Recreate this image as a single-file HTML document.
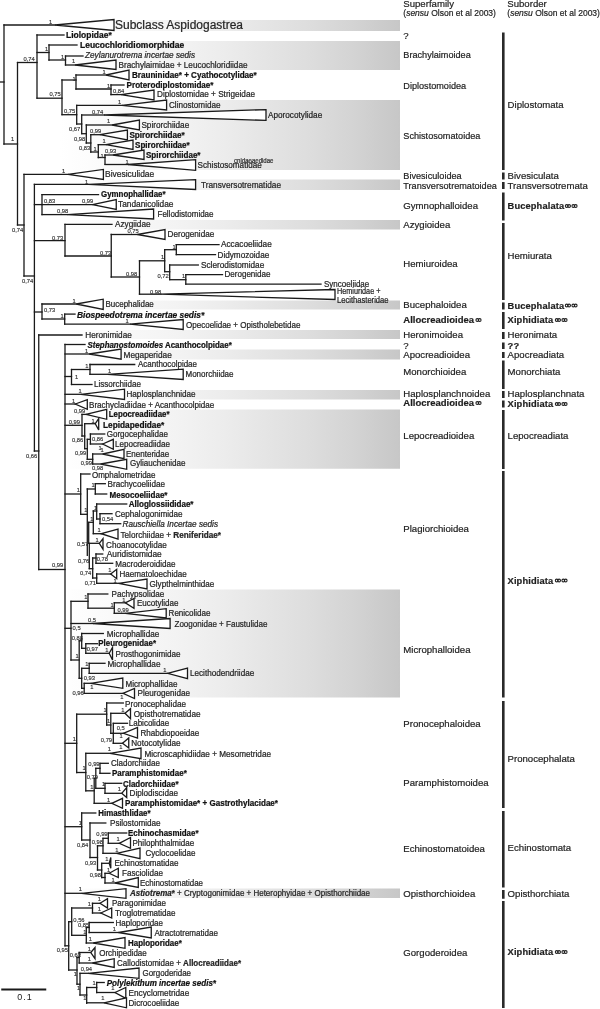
<!DOCTYPE html><html><head><meta charset="utf-8"><style>html,body{margin:0;padding:0;background:#fff;overflow:hidden}svg{display:block;will-change:transform}text{font-family:"Liberation Sans",sans-serif}</style></head><body>
<svg width="600" height="1009" viewBox="0 0 600 1009">
<defs><linearGradient id="g" gradientUnits="userSpaceOnUse" x1="60" y1="0" x2="400" y2="0"><stop offset="0.000" stop-color="#ffffff"/><stop offset="0.176" stop-color="#f9f9f9"/><stop offset="0.341" stop-color="#f3f3f3"/><stop offset="0.485" stop-color="#ececec"/><stop offset="0.618" stop-color="#e4e4e4"/><stop offset="0.735" stop-color="#dddddd"/><stop offset="0.868" stop-color="#d3d3d3"/><stop offset="1.000" stop-color="#c7c7c7"/></linearGradient></defs>
<rect x="40" y="20" width="360" height="11" fill="url(#g)"/>
<rect x="40" y="41" width="360" height="29" fill="url(#g)"/>
<rect x="40" y="100" width="360" height="70" fill="url(#g)"/>
<rect x="40" y="179.5" width="360" height="10.5" fill="url(#g)"/>
<rect x="40" y="220" width="360" height="9.5" fill="url(#g)"/>
<rect x="40" y="300.5" width="360" height="9.0" fill="url(#g)"/>
<rect x="40" y="330" width="360" height="9" fill="url(#g)"/>
<rect x="40" y="349.5" width="360" height="10.0" fill="url(#g)"/>
<rect x="40" y="390" width="360" height="9.5" fill="url(#g)"/>
<rect x="40" y="409.5" width="360" height="59.25" fill="url(#g)"/>
<rect x="40" y="589.5" width="360" height="108.0" fill="url(#g)"/>
<rect x="40" y="888.5" width="360" height="9.5" fill="url(#g)"/>
<g fill="#2a2a2a">
<rect x="502" y="32.5" width="2.6" height="137.5"/>
<rect x="502" y="172.5" width="2.6" height="7.0"/>
<rect x="502" y="182" width="2.6" height="7"/>
<rect x="502" y="192.5" width="2.6" height="28.0"/>
<rect x="502" y="223" width="2.6" height="77"/>
<rect x="502" y="302.5" width="2.6" height="7.0"/>
<rect x="502" y="312" width="2.6" height="17"/>
<rect x="502" y="332" width="2.6" height="7"/>
<rect x="502" y="342.5" width="2.6" height="6.5"/>
<rect x="502" y="352" width="2.6" height="6"/>
<rect x="502" y="360.5" width="2.6" height="28.5"/>
<rect x="502" y="391" width="2.6" height="7"/>
<rect x="502" y="400.5" width="2.6" height="7.0"/>
<rect x="502" y="410" width="2.6" height="59"/>
<rect x="502" y="471" width="2.6" height="226.5"/>
<rect x="502" y="701" width="2.6" height="107"/>
<rect x="502" y="811" width="2.6" height="76.5"/>
<rect x="502" y="890" width="2.6" height="8.75"/>
<rect x="502" y="901" width="2.6" height="107"/>
</g>
<g stroke="#1a1a1a" stroke-width="1.3" fill="#fff" stroke-linecap="square">
<line x1="0" y1="82" x2="4" y2="82"/>
<line x1="4" y1="25" x2="4" y2="144"/>
<line x1="4" y1="25" x2="55" y2="25"/>
<path class="tri" d="M55 25L114 19.5L114 30.5Z"/>
<line x1="4" y1="144" x2="17.5" y2="144"/>
<line x1="17.5" y1="62.5" x2="17.5" y2="225"/>
<line x1="17.5" y1="62.5" x2="37" y2="62.5"/>
<line x1="37" y1="35" x2="37" y2="98.2"/>
<line x1="37" y1="35" x2="64" y2="35"/>
<line x1="37" y1="52.5" x2="49" y2="52.5"/>
<line x1="49" y1="45" x2="49" y2="60"/>
<line x1="49" y1="45" x2="77" y2="45"/>
<line x1="49" y1="60" x2="65.5" y2="60"/>
<line x1="65.5" y1="56" x2="65.5" y2="65"/>
<line x1="65.5" y1="56" x2="83" y2="56"/>
<line x1="65.5" y1="65" x2="75" y2="65"/>
<path class="tri" d="M75 65L116 60L116 69.5Z"/>
<line x1="37" y1="98.2" x2="62" y2="98.2"/>
<line x1="62" y1="80" x2="62" y2="114.7"/>
<line x1="62" y1="80" x2="76" y2="80"/>
<line x1="76" y1="75" x2="76" y2="89"/>
<line x1="76" y1="75" x2="106" y2="75"/>
<path class="tri" d="M106 75L129 70L129 80Z"/>
<line x1="76" y1="89" x2="111" y2="89"/>
<line x1="111" y1="85" x2="111" y2="94.6"/>
<line x1="111" y1="85" x2="124" y2="85"/>
<line x1="111" y1="94.6" x2="121" y2="94.6"/>
<path class="tri" d="M121 94.6L154 90L154 100Z"/>
<line x1="62" y1="114.7" x2="76.7" y2="114.7"/>
<line x1="76.7" y1="105.3" x2="76.7" y2="124"/>
<line x1="76.7" y1="105.3" x2="122" y2="105.3"/>
<path class="tri" d="M122 105.3L166.6 100L166.6 110Z"/>
<line x1="76.7" y1="124" x2="81.7" y2="124"/>
<line x1="81.7" y1="115" x2="81.7" y2="133.7"/>
<line x1="81.7" y1="115" x2="104" y2="115"/>
<path class="tri" d="M104 115L266 109.6L266 120.4Z"/>
<line x1="81.7" y1="133.7" x2="86.3" y2="133.7"/>
<line x1="86.3" y1="125" x2="86.3" y2="143"/>
<line x1="86.3" y1="125" x2="112" y2="125"/>
<path class="tri" d="M112 125L139.4 120L139.4 130Z"/>
<line x1="86.3" y1="143" x2="90.8" y2="143"/>
<line x1="90.8" y1="134.7" x2="90.8" y2="152"/>
<line x1="90.8" y1="134.7" x2="100" y2="134.7"/>
<path class="tri" d="M100 134.7L127.4 130L127.4 140Z"/>
<line x1="90.8" y1="152" x2="98.3" y2="152"/>
<line x1="98.3" y1="144.7" x2="98.3" y2="157.5"/>
<line x1="98.3" y1="144.7" x2="106" y2="144.7"/>
<path class="tri" d="M106 144.7L133 140L133 149.5Z"/>
<line x1="98.3" y1="157.5" x2="105" y2="157.5"/>
<line x1="105" y1="155" x2="105" y2="164"/>
<line x1="105" y1="155" x2="113" y2="155"/>
<path class="tri" d="M113 155L144 150L144 159.5Z"/>
<line x1="105" y1="164.5" x2="128" y2="164.5"/>
<path class="tri" d="M128 164.5L195.6 159.6L195.6 170.4Z"/>
<line x1="17.5" y1="225" x2="24" y2="225"/>
<line x1="24" y1="174.4" x2="24" y2="276"/>
<line x1="24" y1="174.4" x2="68" y2="174.4"/>
<path class="tri" d="M68 174.4L103.4 169.4L103.4 179.4Z"/>
<line x1="24" y1="276" x2="34.4" y2="276"/>
<line x1="34.4" y1="184.4" x2="34.4" y2="451"/>
<line x1="34.4" y1="184.4" x2="88.5" y2="184.4"/>
<path class="tri" d="M88.5 184.4L195.6 179.6L195.6 189.5Z"/>
<line x1="34.4" y1="204.6" x2="42" y2="204.6"/>
<line x1="42" y1="194.6" x2="42" y2="214.6"/>
<line x1="42" y1="194.6" x2="98.5" y2="194.6"/>
<line x1="42" y1="204.6" x2="92.5" y2="204.6"/>
<path class="tri" d="M92.5 204.6L116.25 199.5L116.25 209.5Z"/>
<line x1="42" y1="214.6" x2="67.5" y2="214.6"/>
<path class="tri" d="M67.5 214.6L153.6 209L153.6 219Z"/>
<line x1="34.4" y1="240.6" x2="65" y2="240.6"/>
<line x1="65" y1="224.4" x2="65" y2="256"/>
<line x1="65" y1="224.4" x2="112" y2="224.4"/>
<line x1="65" y1="256" x2="111.25" y2="256"/>
<line x1="111.25" y1="234.5" x2="111.25" y2="277"/>
<line x1="111.25" y1="234.5" x2="137.5" y2="234.5"/>
<path class="tri" d="M137.5 234.5L165 229.5L165 239.5Z"/>
<line x1="111.25" y1="277" x2="139.5" y2="277"/>
<line x1="139.5" y1="260.8" x2="139.5" y2="294.2"/>
<line x1="139.5" y1="260.8" x2="164.7" y2="260.8"/>
<line x1="164.7" y1="249.7" x2="164.7" y2="271.7"/>
<line x1="164.7" y1="249.7" x2="176.3" y2="249.7"/>
<line x1="176.3" y1="244.7" x2="176.3" y2="254.7"/>
<line x1="176.3" y1="244.7" x2="219" y2="244.7"/>
<line x1="176.3" y1="254.7" x2="215.5" y2="254.7"/>
<line x1="164.7" y1="271.7" x2="169.7" y2="271.7"/>
<line x1="169.7" y1="265" x2="169.7" y2="279.7"/>
<line x1="169.7" y1="265" x2="198.3" y2="265"/>
<line x1="169.7" y1="279.7" x2="185.8" y2="279.7"/>
<line x1="185.8" y1="274.7" x2="185.8" y2="284.2"/>
<line x1="185.8" y1="274.7" x2="222.5" y2="274.7"/>
<line x1="185.8" y1="284.2" x2="321" y2="284.2"/>
<line x1="139.5" y1="294.2" x2="160.8" y2="294.2"/>
<path class="tri" d="M160.8 294.2L335 289.5L335 299.5Z"/>
<line x1="34.4" y1="312" x2="42" y2="312"/>
<line x1="42" y1="304" x2="42" y2="319"/>
<line x1="42" y1="304" x2="76.3" y2="304"/>
<path class="tri" d="M76.3 304L103.2 299.2L103.2 309.5Z"/>
<line x1="42" y1="319" x2="64.7" y2="319"/>
<line x1="64.7" y1="314.1" x2="64.7" y2="324.2"/>
<line x1="64.7" y1="314.1" x2="75" y2="314.1"/>
<line x1="64.7" y1="324.2" x2="130" y2="324.2"/>
<path class="tri" d="M130 324.2L183.2 319.5L183.2 329.5Z"/>
<line x1="34.4" y1="451" x2="38.75" y2="451"/>
<line x1="38.75" y1="335" x2="38.75" y2="569.5"/>
<line x1="38.75" y1="335" x2="82" y2="335"/>
<line x1="38.75" y1="569.5" x2="65" y2="569.5"/>
<line x1="65" y1="344.5" x2="65" y2="945.8"/>
<line x1="65" y1="344.5" x2="85" y2="344.5"/>
<line x1="65" y1="354" x2="89.2" y2="354"/>
<path class="tri" d="M89.2 354L121.1 349.1L121.1 359.2Z"/>
<line x1="65" y1="376.5" x2="71.5" y2="376.5"/>
<line x1="71.5" y1="369.5" x2="71.5" y2="384.5"/>
<line x1="71.5" y1="369.5" x2="90" y2="369.5"/>
<line x1="90" y1="364.5" x2="90" y2="374.3"/>
<line x1="90" y1="364.5" x2="134.7" y2="364.5"/>
<line x1="90" y1="374.3" x2="107.8" y2="374.3"/>
<path class="tri" d="M107.8 374.3L183.2 369.2L183.2 379.5Z"/>
<line x1="71.5" y1="384.5" x2="92" y2="384.5"/>
<line x1="65" y1="394.3" x2="81" y2="394.3"/>
<path class="tri" d="M81 394.3L124.5 389.2L124.5 399.4Z"/>
<line x1="65" y1="404" x2="75.3" y2="404"/>
<path class="tri" d="M75.3 404L87.3 399.6L87.3 409.3Z"/>
<line x1="65" y1="425.3" x2="82" y2="425.3"/>
<line x1="82" y1="414.4" x2="82" y2="436"/>
<line x1="82" y1="414.4" x2="86" y2="414.4"/>
<path class="tri" d="M86 414.4L106.7 409.3L106.7 419.3Z"/>
<line x1="82" y1="436" x2="84.7" y2="436"/>
<line x1="84.7" y1="423.7" x2="84.7" y2="448.7"/>
<line x1="84.7" y1="423.7" x2="95.3" y2="423.7"/>
<path class="tri" d="M95.3 423.7L98.7 418.7L98.7 430Z"/>
<line x1="84.7" y1="448.7" x2="87.3" y2="448.7"/>
<line x1="87.3" y1="439.3" x2="87.3" y2="459.3"/>
<line x1="87.3" y1="439.3" x2="90.4" y2="439.3"/>
<line x1="90.4" y1="434" x2="90.4" y2="444"/>
<line x1="90.4" y1="434" x2="104.7" y2="434"/>
<line x1="90.4" y1="444" x2="102.7" y2="444"/>
<path class="tri" d="M102.7 444L113.3 439.3L113.3 449.3Z"/>
<line x1="87.3" y1="459.3" x2="92.7" y2="459.3"/>
<line x1="92.7" y1="454" x2="92.7" y2="464"/>
<line x1="92.7" y1="454" x2="102.7" y2="454"/>
<path class="tri" d="M102.7 454L124 449.3L124 458.7Z"/>
<line x1="92.7" y1="464" x2="100.7" y2="464"/>
<path class="tri" d="M100.7 464L126.7 459.3L126.7 469.3Z"/>
<line x1="65" y1="494" x2="80.7" y2="494"/>
<line x1="80.7" y1="474" x2="80.7" y2="514.3"/>
<line x1="80.7" y1="474" x2="90" y2="474"/>
<line x1="80.7" y1="514.3" x2="87.3" y2="514.3"/>
<line x1="87.3" y1="489" x2="87.3" y2="555.3"/>
<line x1="87.3" y1="489" x2="95.3" y2="489"/>
<line x1="95.3" y1="483.7" x2="95.3" y2="494"/>
<line x1="95.3" y1="483.7" x2="105.3" y2="483.7"/>
<line x1="95.3" y1="494" x2="106.7" y2="494"/>
<line x1="88.7" y1="522.3" x2="88.7" y2="543.3"/>
<line x1="88.7" y1="522.3" x2="93.3" y2="522.3"/>
<line x1="93.3" y1="511" x2="93.3" y2="533.7"/>
<line x1="93.3" y1="511" x2="96.7" y2="511"/>
<line x1="96.7" y1="504" x2="96.7" y2="519"/>
<line x1="96.7" y1="504" x2="126.7" y2="504"/>
<line x1="96.7" y1="519" x2="100" y2="519"/>
<line x1="100" y1="513.7" x2="100" y2="523.7"/>
<line x1="100" y1="513.7" x2="112" y2="513.7"/>
<line x1="100" y1="523.7" x2="120.7" y2="523.7"/>
<line x1="93.3" y1="533.7" x2="101.3" y2="533.7"/>
<path class="tri" d="M101.3 533.7L118 529L118 539Z"/>
<line x1="89.3" y1="543.3" x2="89.3" y2="568.7"/>
<line x1="89.3" y1="543.3" x2="99.3" y2="543.3"/>
<path class="tri" d="M99.3 543.3L103 538.7L103 549.3Z"/>
<line x1="89.3" y1="568.7" x2="92.7" y2="568.7"/>
<line x1="92.7" y1="558" x2="92.7" y2="578"/>
<line x1="92.7" y1="558" x2="96" y2="558"/>
<line x1="96" y1="554" x2="96" y2="563.3"/>
<line x1="96" y1="554" x2="102.7" y2="554"/>
<line x1="96" y1="563.3" x2="112.7" y2="563.3"/>
<line x1="92.7" y1="578" x2="96.7" y2="578"/>
<line x1="96.7" y1="574" x2="96.7" y2="583.3"/>
<line x1="96.7" y1="574" x2="110.7" y2="574"/>
<path class="tri" d="M110.7 574L116.7 569.3L116.7 578.7Z"/>
<line x1="96.7" y1="583.3" x2="118.7" y2="583.3"/>
<path class="tri" d="M118.7 583.3L147 579L147 589Z"/>
<line x1="65" y1="628.3" x2="71" y2="628.3"/>
<line x1="71" y1="601.3" x2="71" y2="660"/>
<line x1="71" y1="601.3" x2="88" y2="601.3"/>
<line x1="88" y1="594" x2="88" y2="608.2"/>
<line x1="88" y1="594" x2="107.8" y2="594"/>
<line x1="88" y1="608.2" x2="114.3" y2="608.2"/>
<line x1="114.3" y1="602.8" x2="114.3" y2="613.3"/>
<line x1="114.3" y1="602.8" x2="125.3" y2="602.8"/>
<path class="tri" d="M125.3 602.8L134 598.5L134 608.3Z"/>
<line x1="114.3" y1="613.3" x2="125.3" y2="613.3"/>
<path class="tri" d="M125.3 613.3L166.2 608.7L166.2 618Z"/>
<line x1="71" y1="623.5" x2="93" y2="623.5"/>
<path class="tri" d="M93 623.5L170.1 618.5L170.1 628.5Z"/>
<line x1="71" y1="660" x2="79.2" y2="660"/>
<line x1="79.2" y1="640.8" x2="79.2" y2="678.3"/>
<line x1="79.2" y1="640.8" x2="81.7" y2="640.8"/>
<line x1="81.7" y1="633.5" x2="81.7" y2="648.3"/>
<line x1="81.7" y1="633.5" x2="103.3" y2="633.5"/>
<line x1="81.7" y1="648.3" x2="85.8" y2="648.3"/>
<line x1="85.8" y1="643.7" x2="85.8" y2="653.3"/>
<line x1="85.8" y1="643.7" x2="97.5" y2="643.7"/>
<line x1="85.8" y1="653.3" x2="109.2" y2="653.3"/>
<path class="tri" d="M109.2 653.3L112.5 647.5L112.5 660Z"/>
<line x1="79.2" y1="678.3" x2="81.7" y2="678.3"/>
<line x1="81.7" y1="668.3" x2="81.7" y2="688.3"/>
<line x1="81.7" y1="668.3" x2="89.2" y2="668.3"/>
<line x1="89.2" y1="663.3" x2="89.2" y2="673.3"/>
<line x1="89.2" y1="663.3" x2="105" y2="663.3"/>
<line x1="89.2" y1="673.3" x2="167.5" y2="673.3"/>
<path class="tri" d="M167.5 673.3L187.5 668L187.5 678.75Z"/>
<line x1="81.7" y1="688.3" x2="84.2" y2="688.3"/>
<line x1="84.2" y1="683.3" x2="84.2" y2="693.3"/>
<line x1="84.2" y1="683.3" x2="90.8" y2="683.3"/>
<path class="tri" d="M90.8 683.3L122.8 678L122.8 688.3Z"/>
<line x1="84.2" y1="693.3" x2="123" y2="693.3"/>
<path class="tri" d="M123 693.3L134.5 688.5L134.5 698.5Z"/>
<line x1="65" y1="743.3" x2="76.7" y2="743.3"/>
<line x1="76.7" y1="714.2" x2="76.7" y2="772.5"/>
<line x1="76.7" y1="714.2" x2="106.7" y2="714.2"/>
<line x1="106.7" y1="703" x2="106.7" y2="725"/>
<line x1="106.7" y1="703" x2="123.3" y2="703"/>
<line x1="106.7" y1="725" x2="110.8" y2="725"/>
<line x1="110.8" y1="713.3" x2="110.8" y2="733.3"/>
<line x1="110.8" y1="713.3" x2="125" y2="713.3"/>
<path class="tri" d="M125 713.3L130.5 708.75L130.5 718.75Z"/>
<line x1="113.3" y1="723.3" x2="113.3" y2="743.3"/>
<line x1="110.8" y1="733.3" x2="113.3" y2="733.3"/>
<line x1="113.3" y1="723.3" x2="127.5" y2="723.3"/>
<line x1="113.3" y1="733.3" x2="123.3" y2="733.3"/>
<path class="tri" d="M123.3 733.3L137.5 727.5L137.5 738Z"/>
<line x1="113.3" y1="743.3" x2="122.5" y2="743.3"/>
<path class="tri" d="M122.5 743.3L128.75 738L128.75 748Z"/>
<line x1="76.7" y1="772.5" x2="85.8" y2="772.5"/>
<line x1="85.8" y1="753.3" x2="85.8" y2="790.8"/>
<line x1="85.8" y1="753.3" x2="110" y2="753.3"/>
<path class="tri" d="M110 753.3L141 748L141 758.75Z"/>
<line x1="85.8" y1="790.8" x2="94.2" y2="790.8"/>
<line x1="94.2" y1="778.3" x2="94.2" y2="803.3"/>
<line x1="95.8" y1="768.3" x2="95.8" y2="788.3"/>
<line x1="94.2" y1="778.3" x2="95.8" y2="778.3"/>
<line x1="95.8" y1="768.3" x2="100" y2="768.3"/>
<line x1="100" y1="763.3" x2="100" y2="773.3"/>
<line x1="100" y1="763.3" x2="108.3" y2="763.3"/>
<line x1="100" y1="773.3" x2="110" y2="773.3"/>
<line x1="95.8" y1="788.3" x2="105" y2="788.3"/>
<line x1="105" y1="783.3" x2="105" y2="793.3"/>
<line x1="105" y1="783.3" x2="121.7" y2="783.3"/>
<line x1="105" y1="793.3" x2="121.7" y2="793.3"/>
<path class="tri" d="M121.7 793.3L126.7 787.5L126.7 797.5Z"/>
<line x1="94.2" y1="803.3" x2="111.7" y2="803.3"/>
<path class="tri" d="M111.7 803.3L122.5 798.3L122.5 808.3Z"/>
<line x1="65" y1="826.7" x2="81.7" y2="826.7"/>
<line x1="81.7" y1="813" x2="81.7" y2="840"/>
<line x1="81.7" y1="813" x2="95.8" y2="813"/>
<line x1="81.7" y1="840" x2="90" y2="840"/>
<line x1="90" y1="823" x2="90" y2="857.5"/>
<line x1="90" y1="823" x2="105.8" y2="823"/>
<line x1="90" y1="857.5" x2="97.5" y2="857.5"/>
<line x1="97.5" y1="845.8" x2="97.5" y2="870"/>
<line x1="97.5" y1="845.8" x2="103" y2="845.8"/>
<line x1="103" y1="838.3" x2="103" y2="853.3"/>
<line x1="103" y1="838.3" x2="108.3" y2="838.3"/>
<line x1="108.3" y1="833" x2="108.3" y2="843.3"/>
<line x1="108.3" y1="833" x2="126.7" y2="833"/>
<line x1="108.3" y1="843.3" x2="119.2" y2="843.3"/>
<path class="tri" d="M119.2 843.3L130.5 837.5L130.5 848.3Z"/>
<line x1="103" y1="853.3" x2="116.7" y2="853.3"/>
<path class="tri" d="M116.7 853.3L140 848L140 858.75Z"/>
<line x1="97.5" y1="870" x2="101.7" y2="870"/>
<line x1="101.7" y1="863.3" x2="101.7" y2="877.5"/>
<line x1="101.7" y1="863.3" x2="109.2" y2="863.3"/>
<path class="tri" d="M109.2 863.3L110.8 857.5L110.8 868.3Z"/>
<line x1="101.7" y1="877.5" x2="105" y2="877.5"/>
<line x1="105" y1="873.3" x2="105" y2="883"/>
<line x1="105" y1="873.3" x2="109.2" y2="873.3"/>
<path class="tri" d="M109.2 873.3L118.3 868.3L118.3 877.5Z"/>
<line x1="105" y1="883" x2="115" y2="883"/>
<path class="tri" d="M115 883L138.3 877.5L138.3 887.5Z"/>
<line x1="65" y1="893.3" x2="81.7" y2="893.3"/>
<path class="tri" d="M81.7 893.3L126 888.7L126 898.3Z"/>
<line x1="65" y1="945.8" x2="68.7" y2="945.8"/>
<line x1="68.7" y1="921.7" x2="68.7" y2="970"/>
<line x1="68.7" y1="921.7" x2="71.7" y2="921.7"/>
<line x1="71.7" y1="908" x2="71.7" y2="935.3"/>
<line x1="71.7" y1="908" x2="92.5" y2="908"/>
<line x1="92.5" y1="903.3" x2="92.5" y2="913"/>
<line x1="92.5" y1="903.3" x2="100" y2="903.3"/>
<path class="tri" d="M100 903.3L107.5 898.7L107.5 908Z"/>
<line x1="92.5" y1="913" x2="100.8" y2="913"/>
<path class="tri" d="M100.8 913L111.7 908L111.7 918Z"/>
<line x1="71.7" y1="935.3" x2="86.3" y2="935.3"/>
<line x1="86.3" y1="927.5" x2="86.3" y2="943"/>
<line x1="86.3" y1="927.5" x2="89.2" y2="927.5"/>
<line x1="89.2" y1="922.5" x2="89.2" y2="932.5"/>
<line x1="89.2" y1="922.5" x2="113.3" y2="922.5"/>
<line x1="89.2" y1="932.5" x2="118.5" y2="932.5"/>
<path class="tri" d="M118.5 932.5L151.25 927L151.25 938Z"/>
<line x1="86.3" y1="943" x2="93.3" y2="943"/>
<path class="tri" d="M93.3 943L125 937.5L125 948.3Z"/>
<line x1="68.7" y1="970" x2="77" y2="970"/>
<line x1="77" y1="957.5" x2="77" y2="984.2"/>
<line x1="77" y1="957.5" x2="79.2" y2="957.5"/>
<line x1="79.2" y1="952.5" x2="79.2" y2="963"/>
<line x1="79.2" y1="952.5" x2="90.8" y2="952.5"/>
<path class="tri" d="M90.8 952.5L95 947.5L95 958.7Z"/>
<line x1="79.2" y1="963" x2="92.5" y2="963"/>
<path class="tri" d="M92.5 963L114.2 958.7L114.2 967.5Z"/>
<line x1="77" y1="984.2" x2="80" y2="984.2"/>
<line x1="80" y1="973.3" x2="80" y2="995"/>
<line x1="80" y1="973.3" x2="88.3" y2="973.3"/>
<path class="tri" d="M88.3 973.3L139 968L139 978.3Z"/>
<line x1="80" y1="995" x2="86.7" y2="995"/>
<line x1="86.7" y1="987.5" x2="86.7" y2="1003.3"/>
<line x1="86.7" y1="987.5" x2="96.7" y2="987.5"/>
<line x1="96.7" y1="982.5" x2="96.7" y2="992.5"/>
<line x1="96.7" y1="982.5" x2="104.2" y2="982.5"/>
<line x1="96.7" y1="992.5" x2="115" y2="992.5"/>
<path class="tri" d="M115 992.5L125.8 987.5L125.8 998.3Z"/>
<line x1="86.7" y1="1002.8" x2="104" y2="1002.8"/>
<path class="tri" d="M104 1002.8L126.5 997.8L126.5 1007.8Z"/>
</g>
<g fill="#262626" stroke="#262626" stroke-width="0.22">
<text transform="translate(115 29.32) scale(1 1.0)" font-size="12.0" textLength="128.00" lengthAdjust="spacingAndGlyphs">Subclass Aspidogastrea</text>
<text transform="translate(66 37.95) scale(1 1.05)" font-size="8.2" textLength="45.75" lengthAdjust="spacingAndGlyphs" font-weight="bold" fill="#111" stroke="#111">Liolopidae*</text>
<text transform="translate(80 48.45) scale(1 1.05)" font-size="8.2" textLength="104.25" lengthAdjust="spacingAndGlyphs" font-weight="bold" fill="#111" stroke="#111">Leucochloridiomorphidae</text>
<text transform="translate(85 58.38) scale(1 1.05)" font-size="8.0" textLength="110.00" lengthAdjust="spacingAndGlyphs" font-style="italic">Zeylanurotrema incertae sedis</text>
<text transform="translate(118.5 68.38) scale(1 1.05)" font-size="8.0" textLength="129.00" lengthAdjust="spacingAndGlyphs">Brachylaimidae + Leucochloridiidae</text>
<text transform="translate(132 78.45) scale(1 1.05)" font-size="8.2" textLength="124.75" lengthAdjust="spacingAndGlyphs" font-weight="bold" fill="#111" stroke="#111">Brauninidae* + Cyathocotylidae*</text>
<text transform="translate(126.6 88.45) scale(1 1.05)" font-size="8.2" textLength="86.90" lengthAdjust="spacingAndGlyphs" font-weight="bold" fill="#111" stroke="#111">Proterodiplostomidae*</text>
<text transform="translate(157 97.48) scale(1 1.05)" font-size="8.0" textLength="98.00" lengthAdjust="spacingAndGlyphs">Diplostomidae + Strigeidae</text>
<text transform="translate(169 107.88) scale(1 1.05)" font-size="8.0" textLength="51.50" lengthAdjust="spacingAndGlyphs">Clinostomidae</text>
<text transform="translate(268 117.88) scale(1 1.05)" font-size="8.0" textLength="54.20" lengthAdjust="spacingAndGlyphs">Aporocotylidae</text>
<text transform="translate(141.4 127.88) scale(1 1.05)" font-size="8.0" textLength="47.85" lengthAdjust="spacingAndGlyphs">Spirorchiidae</text>
<text transform="translate(129.4 137.95) scale(1 1.05)" font-size="8.2" textLength="55.35" lengthAdjust="spacingAndGlyphs" font-weight="bold" fill="#111" stroke="#111">Spirorchiidae*</text>
<text transform="translate(135 147.55) scale(1 1.05)" font-size="8.2" textLength="54.75" lengthAdjust="spacingAndGlyphs" font-weight="bold" fill="#111" stroke="#111">Spirorchiidae*</text>
<text transform="translate(146 157.55) scale(1 1.05)" font-size="8.2" textLength="54.50" lengthAdjust="spacingAndGlyphs" font-weight="bold" fill="#111" stroke="#111">Spirorchiidae*</text>
<text transform="translate(197.6 167.88) scale(1 1.05)" font-size="8.0" textLength="64.15" lengthAdjust="spacingAndGlyphs">Schistosomatidae</text>
<text transform="translate(234 163.34) scale(1 1.05)" font-size="6.5" textLength="39.50" lengthAdjust="spacingAndGlyphs" fill="#444">cnidaeaedidae</text>
<text transform="translate(105 177.38) scale(1 1.05)" font-size="8.0" textLength="49.25" lengthAdjust="spacingAndGlyphs">Bivesiculidae</text>
<text transform="translate(201 187.88) scale(1 1.05)" font-size="8.0" textLength="80.00" lengthAdjust="spacingAndGlyphs">Transversotrematidae</text>
<text transform="translate(101 197.45) scale(1 1.05)" font-size="8.2" textLength="64.50" lengthAdjust="spacingAndGlyphs" font-weight="bold" fill="#111" stroke="#111">Gymnophallidae*</text>
<text transform="translate(118 207.38) scale(1 1.05)" font-size="8.0" textLength="55.50" lengthAdjust="spacingAndGlyphs">Tandanicolidae</text>
<text transform="translate(157.5 217.38) scale(1 1.05)" font-size="8.0" textLength="56.00" lengthAdjust="spacingAndGlyphs">Fellodistomidae</text>
<text transform="translate(115 227.38) scale(1 1.05)" font-size="8.0" textLength="35.50" lengthAdjust="spacingAndGlyphs">Azygiidae</text>
<text transform="translate(167.5 237.18) scale(1 1.05)" font-size="8.0" textLength="46.75" lengthAdjust="spacingAndGlyphs">Derogenidae</text>
<text transform="translate(221 247.38) scale(1 1.05)" font-size="8.0" textLength="50.75" lengthAdjust="spacingAndGlyphs">Accacoeliidae</text>
<text transform="translate(217.5 257.88) scale(1 1.05)" font-size="8.0" textLength="51.75" lengthAdjust="spacingAndGlyphs">Didymozoidae</text>
<text transform="translate(201 267.88) scale(1 1.05)" font-size="8.0" textLength="63.25" lengthAdjust="spacingAndGlyphs">Sclerodistomidae</text>
<text transform="translate(224.5 277.38) scale(1 1.05)" font-size="8.0" textLength="46.00" lengthAdjust="spacingAndGlyphs">Derogenidae</text>
<text transform="translate(324 286.81) scale(1 1.05)" font-size="7.8" textLength="45.25" lengthAdjust="spacingAndGlyphs">Syncoeliidae</text>
<text transform="translate(337 293.81) scale(1 1.05)" font-size="7.8" textLength="43.50" lengthAdjust="spacingAndGlyphs">Hemiuridae +</text>
<text transform="translate(337 302.81) scale(1 1.05)" font-size="7.8" textLength="51.50" lengthAdjust="spacingAndGlyphs">Lecithasteridae</text>
<text transform="translate(105.5 307.48) scale(1 1.05)" font-size="8.0" textLength="48.30" lengthAdjust="spacingAndGlyphs">Bucephalidae</text>
<text transform="translate(77 317.68) scale(1 1.05)" font-size="8.0" textLength="127.25" lengthAdjust="spacingAndGlyphs" font-weight="bold" font-style="italic" fill="#111" stroke="#111">Biospeedotrema incertae sedis*</text>
<text transform="translate(186 327.68) scale(1 1.05)" font-size="8.0" textLength="114.50" lengthAdjust="spacingAndGlyphs">Opecoelidae + Opistholebetidae</text>
<text transform="translate(85.3 337.68) scale(1 1.05)" font-size="8.0" textLength="46.45" lengthAdjust="spacingAndGlyphs">Heronimidae</text>
<text transform="translate(87.5 347.95) scale(1 1.05)" font-size="8.2" textLength="144.25" lengthAdjust="spacingAndGlyphs" font-weight="bold" fill="#111" stroke="#111"><tspan font-style='italic'>Stephanostomoides</tspan> Acanthocolpidae*</text>
<text transform="translate(123.5 357.68) scale(1 1.05)" font-size="8.0" textLength="48.25" lengthAdjust="spacingAndGlyphs">Megaperidae</text>
<text transform="translate(138 367.38) scale(1 1.05)" font-size="8.0" textLength="59.00" lengthAdjust="spacingAndGlyphs">Acanthocolpidae</text>
<text transform="translate(185.5 377.18) scale(1 1.05)" font-size="8.0" textLength="48.00" lengthAdjust="spacingAndGlyphs">Monorchiidae</text>
<text transform="translate(94 387.38) scale(1 1.05)" font-size="8.0" textLength="47.00" lengthAdjust="spacingAndGlyphs">Lissorchiidae</text>
<text transform="translate(126.5 397.18) scale(1 1.05)" font-size="8.0" textLength="69.00" lengthAdjust="spacingAndGlyphs">Haplosplanchnidae</text>
<text transform="translate(89 407.88) scale(1 1.05)" font-size="8.0" textLength="125.25" lengthAdjust="spacingAndGlyphs">Brachycladiidae + Acanthocolpidae</text>
<text transform="translate(108.7 417.45) scale(1 1.05)" font-size="8.2" textLength="60.80" lengthAdjust="spacingAndGlyphs" font-weight="bold" fill="#111" stroke="#111">Lepocreadiidae*</text>
<text transform="translate(103 427.95) scale(1 1.05)" font-size="8.2" textLength="61.25" lengthAdjust="spacingAndGlyphs" font-weight="bold" fill="#111" stroke="#111">Lepidapedidae*</text>
<text transform="translate(106.7 436.88) scale(1 1.05)" font-size="8.0" textLength="61.30" lengthAdjust="spacingAndGlyphs">Gorgocephalidae</text>
<text transform="translate(115 446.88) scale(1 1.05)" font-size="8.0" textLength="55.00" lengthAdjust="spacingAndGlyphs">Lepocreadiidae</text>
<text transform="translate(126 456.88) scale(1 1.05)" font-size="8.0" textLength="43.25" lengthAdjust="spacingAndGlyphs">Enenteridae</text>
<text transform="translate(130 465.88) scale(1 1.05)" font-size="8.0" textLength="55.50" lengthAdjust="spacingAndGlyphs">Gyliauchenidae</text>
<text transform="translate(92 477.68) scale(1 1.05)" font-size="8.0" textLength="63.50" lengthAdjust="spacingAndGlyphs">Omphalometridae</text>
<text transform="translate(107.5 487.18) scale(1 1.05)" font-size="8.0" textLength="57.50" lengthAdjust="spacingAndGlyphs">Brachycoeliidae</text>
<text transform="translate(109.5 497.75) scale(1 1.05)" font-size="8.2" textLength="58.00" lengthAdjust="spacingAndGlyphs" font-weight="bold" fill="#111" stroke="#111">Mesocoeliidae*</text>
<text transform="translate(128.75 507.45) scale(1 1.05)" font-size="8.2" textLength="64.75" lengthAdjust="spacingAndGlyphs" font-weight="bold" fill="#111" stroke="#111">Alloglossiididae*</text>
<text transform="translate(115 517.18) scale(1 1.05)" font-size="8.0" textLength="67.50" lengthAdjust="spacingAndGlyphs">Cephalogonimidae</text>
<text transform="translate(122.5 526.88) scale(1 1.05)" font-size="8.0" textLength="95.50" lengthAdjust="spacingAndGlyphs" font-style="italic">Rauschiella Incertae sedis</text>
<text transform="translate(120.5 537.88) scale(1 1.05)" font-size="8.0" textLength="100.50" lengthAdjust="spacingAndGlyphs">Telorchiidae + <tspan font-weight='bold'>Reniferidae*</tspan></text>
<text transform="translate(106 548.18) scale(1 1.05)" font-size="8.0" textLength="60.75" lengthAdjust="spacingAndGlyphs">Choanocotylidae</text>
<text transform="translate(106.7 556.88) scale(1 1.05)" font-size="8.0" textLength="55.05" lengthAdjust="spacingAndGlyphs">Auridistomidae</text>
<text transform="translate(115.3 567.18) scale(1 1.05)" font-size="8.0" textLength="60.20" lengthAdjust="spacingAndGlyphs">Macroderoididae</text>
<text transform="translate(119.5 576.88) scale(1 1.05)" font-size="8.0" textLength="67.25" lengthAdjust="spacingAndGlyphs">Haematoloechidae</text>
<text transform="translate(149.5 586.88) scale(1 1.05)" font-size="8.0" textLength="64.75" lengthAdjust="spacingAndGlyphs">Glypthelminthidae</text>
<text transform="translate(111.5 597.38) scale(1 1.05)" font-size="8.0" textLength="52.75" lengthAdjust="spacingAndGlyphs">Pachypsolidae</text>
<text transform="translate(137 605.88) scale(1 1.05)" font-size="8.0" textLength="41.50" lengthAdjust="spacingAndGlyphs">Eucotylidae</text>
<text transform="translate(168.6 615.88) scale(1 1.05)" font-size="8.0" textLength="41.90" lengthAdjust="spacingAndGlyphs">Renicolidae</text>
<text transform="translate(174.5 626.88) scale(1 1.05)" font-size="8.0" textLength="93.00" lengthAdjust="spacingAndGlyphs">Zoogonidae + Faustulidae</text>
<text transform="translate(106.8 637.18) scale(1 1.05)" font-size="8.0" textLength="52.45" lengthAdjust="spacingAndGlyphs">Microphallidae</text>
<text transform="translate(98.3 646.25) scale(1 1.05)" font-size="8.2" textLength="57.70" lengthAdjust="spacingAndGlyphs" font-weight="bold" fill="#111" stroke="#111">Pleurogenidae*</text>
<text transform="translate(115.5 656.63) scale(1 1.05)" font-size="8.0" textLength="65.00" lengthAdjust="spacingAndGlyphs">Prosthogonimidae</text>
<text transform="translate(107.5 667.18) scale(1 1.05)" font-size="8.0" textLength="53.00" lengthAdjust="spacingAndGlyphs">Microphallidae</text>
<text transform="translate(190 676.18) scale(1 1.05)" font-size="8.0" textLength="64.25" lengthAdjust="spacingAndGlyphs">Lecithodendriidae</text>
<text transform="translate(125.5 686.63) scale(1 1.05)" font-size="8.0" textLength="52.00" lengthAdjust="spacingAndGlyphs">Microphallidae</text>
<text transform="translate(137.5 696.18) scale(1 1.05)" font-size="8.0" textLength="52.50" lengthAdjust="spacingAndGlyphs">Pleurogenidae</text>
<text transform="translate(125 706.63) scale(1 1.05)" font-size="8.0" textLength="61.00" lengthAdjust="spacingAndGlyphs">Pronocephalidae</text>
<text transform="translate(133.75 716.63) scale(1 1.05)" font-size="8.0" textLength="66.75" lengthAdjust="spacingAndGlyphs">Opisthotrematidae</text>
<text transform="translate(128.75 726.38) scale(1 1.05)" font-size="8.0" textLength="40.50" lengthAdjust="spacingAndGlyphs">Labicolidae</text>
<text transform="translate(140.5 736.18) scale(1 1.05)" font-size="8.0" textLength="58.75" lengthAdjust="spacingAndGlyphs">Rhabdiopoeidae</text>
<text transform="translate(131.25 745.68) scale(1 1.05)" font-size="8.0" textLength="49.25" lengthAdjust="spacingAndGlyphs">Notocotylidae</text>
<text transform="translate(144.5 756.63) scale(1 1.05)" font-size="8.0" textLength="126.50" lengthAdjust="spacingAndGlyphs">Microscaphidiidae + Mesometridae</text>
<text transform="translate(111 766.18) scale(1 1.05)" font-size="8.0" textLength="49.00" lengthAdjust="spacingAndGlyphs">Cladorchiidae</text>
<text transform="translate(112 776.45) scale(1 1.05)" font-size="8.2" textLength="74.75" lengthAdjust="spacingAndGlyphs" font-weight="bold" fill="#111" stroke="#111">Paramphistomidae*</text>
<text transform="translate(123 786.70) scale(1 1.05)" font-size="8.2" textLength="55.50" lengthAdjust="spacingAndGlyphs" font-weight="bold" fill="#111" stroke="#111">Cladorchiidae*</text>
<text transform="translate(129.5 796.18) scale(1 1.05)" font-size="8.0" textLength="48.50" lengthAdjust="spacingAndGlyphs">Diplodiscidae</text>
<text transform="translate(125 806.25) scale(1 1.05)" font-size="8.2" textLength="153.00" lengthAdjust="spacingAndGlyphs" font-weight="bold" fill="#111" stroke="#111">Paramphistomidae* + Gastrothylacidae*</text>
<text transform="translate(98.3 816.25) scale(1 1.05)" font-size="8.2" textLength="52.20" lengthAdjust="spacingAndGlyphs" font-weight="bold" fill="#111" stroke="#111">Himasthlidae*</text>
<text transform="translate(110 826.18) scale(1 1.05)" font-size="8.0" textLength="50.50" lengthAdjust="spacingAndGlyphs">Psilostomidae</text>
<text transform="translate(128 835.75) scale(1 1.05)" font-size="8.2" textLength="70.50" lengthAdjust="spacingAndGlyphs" font-weight="bold" fill="#111" stroke="#111">Echinochasmidae*</text>
<text transform="translate(132.5 846.18) scale(1 1.05)" font-size="8.0" textLength="61.75" lengthAdjust="spacingAndGlyphs">Philophthalmidae</text>
<text transform="translate(145.5 856.38) scale(1 1.05)" font-size="8.0" textLength="50.00" lengthAdjust="spacingAndGlyphs">Cyclocoelidae</text>
<text transform="translate(114.5 865.68) scale(1 1.05)" font-size="8.0" textLength="64.00" lengthAdjust="spacingAndGlyphs">Echinostomatidae</text>
<text transform="translate(122 875.68) scale(1 1.05)" font-size="8.0" textLength="41.00" lengthAdjust="spacingAndGlyphs">Fasciolidae</text>
<text transform="translate(140 885.68) scale(1 1.05)" font-size="8.0" textLength="63.00" lengthAdjust="spacingAndGlyphs">Echinostomatidae</text>
<text transform="translate(130 896.18) scale(1 1.05)" font-size="8.0" textLength="240.00" lengthAdjust="spacingAndGlyphs"><tspan font-weight='bold' font-style='italic'>Astiotrema</tspan><tspan font-weight='bold'>*</tspan> + Cryptogonimidae + Heterophyidae + Opisthorchiidae</text>
<text transform="translate(112 905.68) scale(1 1.05)" font-size="8.0" textLength="54.00" lengthAdjust="spacingAndGlyphs">Paragonimidae</text>
<text transform="translate(115 916.18) scale(1 1.05)" font-size="8.0" textLength="60.50" lengthAdjust="spacingAndGlyphs">Troglotrematidae</text>
<text transform="translate(115.5 926.18) scale(1 1.05)" font-size="8.0" textLength="47.50" lengthAdjust="spacingAndGlyphs">Haploporidae</text>
<text transform="translate(154.5 936.18) scale(1 1.05)" font-size="8.0" textLength="63.50" lengthAdjust="spacingAndGlyphs">Atractotrematidae</text>
<text transform="translate(128 946.25) scale(1 1.05)" font-size="8.2" textLength="53.75" lengthAdjust="spacingAndGlyphs" font-weight="bold" fill="#111" stroke="#111">Haploporidae*</text>
<text transform="translate(99.2 956.18) scale(1 1.05)" font-size="8.0" textLength="47.55" lengthAdjust="spacingAndGlyphs">Orchipedidae</text>
<text transform="translate(117 965.68) scale(1 1.05)" font-size="8.0" textLength="124.00" lengthAdjust="spacingAndGlyphs">Callodistomidae + <tspan font-weight='bold'>Allocreadiidae*</tspan></text>
<text transform="translate(142.5 976.18) scale(1 1.05)" font-size="8.0" textLength="48.50" lengthAdjust="spacingAndGlyphs">Gorgoderidae</text>
<text transform="translate(106.7 985.68) scale(1 1.05)" font-size="8.0" textLength="109.30" lengthAdjust="spacingAndGlyphs" font-weight="bold" font-style="italic" fill="#111" stroke="#111">Polylekithum incertae sedis*</text>
<text transform="translate(128.5 995.68) scale(1 1.05)" font-size="8.0" textLength="60.75" lengthAdjust="spacingAndGlyphs">Encyclometridae</text>
<text transform="translate(128.5 1005.68) scale(1 1.05)" font-size="8.0" textLength="50.75" lengthAdjust="spacingAndGlyphs">Dicrocoeliidae</text>
</g>
<g fill="#333" stroke="#333" stroke-width="0.15" font-size="5.8">
<text x="49" y="24.10">1</text>
<text x="11" y="141.10">1</text>
<text x="23.5" y="61.10">0,74</text>
<text x="45" y="50.60">1</text>
<text x="61" y="59.10">1</text>
<text x="72" y="63.10">1</text>
<text x="49.5" y="96.10">0,75</text>
<text x="72.5" y="81.10">1</text>
<text x="102.5" y="74.10">1</text>
<text x="107" y="88.10">1</text>
<text x="113" y="93.10">0,84</text>
<text x="64" y="113.10">0,75</text>
<text x="118" y="103.60">1</text>
<text x="92" y="113.80">0,74</text>
<text x="69" y="130.80">0,67</text>
<text x="107" y="123.10">1</text>
<text x="74" y="140.80">0,98</text>
<text x="90" y="132.90">0,99</text>
<text x="79" y="149.60">0,83</text>
<text x="102.5" y="143.10">1</text>
<text x="93.5" y="150.60">1</text>
<text x="105" y="153.10">0,93</text>
<text x="100.5" y="158.10">1</text>
<text x="125.5" y="163.80">1</text>
<text x="12" y="232.10">0,74</text>
<text x="62" y="173.10">1</text>
<text x="22" y="283.10">0,74</text>
<text x="85" y="184.10">1</text>
<text x="44" y="203.10">0,83</text>
<text x="82" y="203.10">0,99</text>
<text x="57" y="213.10">0,98</text>
<text x="52" y="239.60">0,73</text>
<text x="100" y="254.60">0,73</text>
<text x="127.5" y="233.35">0,75</text>
<text x="126" y="276.10">0,98</text>
<text x="161" y="258.80">1</text>
<text x="172.5" y="248.80">1</text>
<text x="157.5" y="277.90">0,72</text>
<text x="182" y="277.90">1</text>
<text x="150" y="293.80">0,98</text>
<text x="44" y="311.60">0,73</text>
<text x="72.5" y="303.10">1</text>
<text x="60.5" y="318.10">1</text>
<text x="125.5" y="323.10">1</text>
<text x="26" y="457.60">0,66</text>
<text x="52" y="567.10">0,99</text>
<text x="85" y="353.10">1</text>
<text x="75" y="378.60">1</text>
<text x="85.3" y="368.10">1</text>
<text x="108" y="372.60">1</text>
<text x="78.5" y="392.60">1</text>
<text x="72" y="403.40">1</text>
<text x="68.7" y="424.10">0,99</text>
<text x="74" y="413.40">0,99</text>
<text x="72" y="442.10">0,86</text>
<text x="91.5" y="422.80">1</text>
<text x="75" y="454.80">0,99</text>
<text x="92" y="441.40">0,86</text>
<text x="98.5" y="450.10">1</text>
<text x="100.5" y="452.10">1</text>
<text x="80.7" y="464.80">0,99</text>
<text x="92" y="470.10">0,98</text>
<text x="76.8" y="491.80">1</text>
<text x="84.2" y="512.40">1</text>
<text x="91.5" y="487.10">1</text>
<text x="90.2" y="521.10">1</text>
<text x="94" y="509.80">1</text>
<text x="102" y="521.10">0,54</text>
<text x="97.5" y="532.40">1</text>
<text x="95.5" y="541.70">1</text>
<text x="77" y="546.10">0,57</text>
<text x="78" y="562.80">0,76</text>
<text x="96.7" y="561.40">0,78</text>
<text x="80" y="574.80">0,74</text>
<text x="108.2" y="572.10">1</text>
<text x="113.5" y="582.50">1</text>
<text x="84.7" y="584.80">0,71</text>
<text x="72.6" y="629.90">0,5</text>
<text x="84.2" y="599.40">1</text>
<text x="110.5" y="606.80">1</text>
<text x="122.2" y="602.10">1</text>
<text x="117.5" y="612.10">0,99</text>
<text x="88" y="622.10">0,5</text>
<text x="75.5" y="657.90">1</text>
<text x="71.7" y="640.40">0,88</text>
<text x="86.7" y="651.30">0,97</text>
<text x="105.3" y="652.10">1</text>
<text x="85.3" y="666.30">1</text>
<text x="163.2" y="671.60">1</text>
<text x="83.7" y="679.60">0,93</text>
<text x="90.3" y="689.10">1</text>
<text x="120.3" y="698.80">1</text>
<text x="72.5" y="694.60">0,96</text>
<text x="72.8" y="741.10">1</text>
<text x="103.5" y="712.10">1</text>
<text x="107" y="722.90">1</text>
<text x="121.2" y="712.10">1</text>
<text x="116.7" y="730.40">0,5</text>
<text x="119.5" y="737.90">1</text>
<text x="119.2" y="748.80">1</text>
<text x="100.8" y="741.80">0,79</text>
<text x="82.5" y="770.40">1</text>
<text x="107.8" y="751.30">1</text>
<text x="90.3" y="788.80">1</text>
<text x="88.3" y="766.30">0,99</text>
<text x="86.7" y="778.80">0,79</text>
<text x="102" y="786.30">1</text>
<text x="117.8" y="790.80">1</text>
<text x="107" y="801.80">1</text>
<text x="78.7" y="825.10">1</text>
<text x="77" y="847.10">0,84</text>
<text x="85" y="864.60">0,93</text>
<text x="91.7" y="844.10">0,98</text>
<text x="96.3" y="836.30">0,99</text>
<text x="116.5" y="841.30">1</text>
<text x="115.3" y="851.80">1</text>
<text x="105.3" y="861.30">1</text>
<text x="89.7" y="877.40">0,98</text>
<text x="107" y="871.80">1</text>
<text x="111.5" y="882.10">1</text>
<text x="78.7" y="891.30">1</text>
<text x="56.7" y="952.40">0,95</text>
<text x="73.3" y="922.10">0,56</text>
<text x="87.8" y="906.30">1</text>
<text x="97.8" y="901.30">1</text>
<text x="97.8" y="911.30">1</text>
<text x="83.2" y="933.80">1</text>
<text x="78" y="927.10">0,85</text>
<text x="112.8" y="931.30">1</text>
<text x="88.7" y="941.30">1</text>
<text x="73.7" y="976.30">1</text>
<text x="69.7" y="957.10">0,63</text>
<text x="87.8" y="951.30">1</text>
<text x="87.8" y="961.30">1</text>
<text x="77" y="989.60">1</text>
<text x="80.8" y="970.80">0,94</text>
<text x="83.2" y="1000.40">1</text>
<text x="92.5" y="985.40">1</text>
<text x="111.2" y="990.40">1</text>
<text x="101.2" y="1000.40">1</text>
</g>
<g fill="#1e1e1e" stroke="#1e1e1e" stroke-width="0.2" font-size="9.6">
<text x="403.3" y="38.80">?</text>
<text x="403.3" y="57.80" font-size="9.15">Brachylaimoidea</text>
<text x="403.3" y="88.80" font-size="9.15">Diplostomoidea</text>
<text x="403.3" y="139.10" font-size="9.15">Schistosomatoidea</text>
<text x="403.3" y="179.10" font-size="9.15">Bivesiculoidea</text>
<text x="403.3" y="189.10" font-size="9.15">Transversotrematoidea</text>
<text x="403.3" y="209.10">Gymnophalloidea</text>
<text x="403.3" y="228.10">Azygioidea</text>
<text x="403.3" y="267.10">Hemiuroidea</text>
<text x="403.3" y="308.10">Bucephaloidea</text>
<text x="403.3" y="323.10"><tspan font-weight='bold' font-size='9.5'>Allocreadioidea</tspan></text>
<text x="403.3" y="338.10">Heronimoidea</text>
<text x="403.3" y="348.60">?</text>
<text x="403.3" y="357.60">Apocreadioidea</text>
<text x="403.3" y="375.10">Monorchioidea</text>
<text x="403.3" y="397.10">Haplosplanchnoidea</text>
<text x="403.3" y="406.10"><tspan font-weight='bold' font-size='9.5'>Allocreadioidea</tspan></text>
<text x="403.3" y="438.60">Lepocreadioidea</text>
<text x="403.3" y="531.85">Plagiorchioidea</text>
<text x="403.3" y="652.60">Microphalloidea</text>
<text x="403.3" y="726.85">Pronocephaloidea</text>
<text x="403.3" y="786.10">Paramphistomoidea</text>
<text x="403.3" y="851.60">Echinostomatoidea</text>
<text x="403.3" y="896.85">Opisthorchioidea</text>
<text x="403.3" y="955.60">Gorgoderoidea</text>
</g>
<g fill="#1e1e1e" stroke="#1e1e1e" stroke-width="0.2" font-size="9.6">
<text x="507.6" y="107.80">Diplostomata</text>
<text x="507.6" y="179.10">Bivesiculata</text>
<text x="507.6" y="188.60">Transversotremata</text>
<text x="507.6" y="209.10"><tspan font-weight='bold' font-size='9.3' letter-spacing='0.12'>Bucephalata</tspan></text>
<text x="507.6" y="259.10">Hemiurata</text>
<text x="507.6" y="308.60"><tspan font-weight='bold' font-size='9.3' letter-spacing='0.12'>Bucephalata</tspan></text>
<text x="507.6" y="323.10"><tspan font-weight='bold' font-size='9.3' letter-spacing='0.12'>Xiphidiata</tspan></text>
<text x="507.6" y="338.10">Heronimata</text>
<text x="507.6" y="348.60"><tspan font-weight='bold' font-size='9.3' letter-spacing='0.12'>??</tspan></text>
<text x="507.6" y="357.60">Apocreadiata</text>
<text x="507.6" y="375.10">Monorchiata</text>
<text x="507.6" y="397.10">Haplosplanchnata</text>
<text x="507.6" y="407.10"><tspan font-weight='bold' font-size='9.3' letter-spacing='0.12'>Xiphidiata</tspan></text>
<text x="507.6" y="438.60">Lepocreadiata</text>
<text x="507.6" y="583.60"><tspan font-weight='bold' font-size='9.3' letter-spacing='0.12'>Xiphidiata</tspan></text>
<text x="507.6" y="761.85">Pronocephalata</text>
<text x="507.6" y="850.60">Echinostomata</text>
<text x="507.6" y="896.85">Opisthorchiata</text>
<text x="507.6" y="955.10"><tspan font-weight='bold' font-size='9.3' letter-spacing='0.12'>Xiphidiata</tspan></text>
</g>
<g fill="none" stroke="#1e1e1e" stroke-width="1.05"><circle cx="477.30" cy="320.00" r="1.38"/><circle cx="479.70" cy="320.00" r="1.38"/><circle cx="477.30" cy="403.00" r="1.38"/><circle cx="479.70" cy="403.00" r="1.38"/><circle cx="566.70" cy="206.00" r="1.38"/><circle cx="569.10" cy="206.00" r="1.38"/><circle cx="573.30" cy="206.00" r="1.38"/><circle cx="575.70" cy="206.00" r="1.38"/><circle cx="566.70" cy="305.50" r="1.38"/><circle cx="569.10" cy="305.50" r="1.38"/><circle cx="573.30" cy="305.50" r="1.38"/><circle cx="575.70" cy="305.50" r="1.38"/><circle cx="556.70" cy="320.00" r="1.38"/><circle cx="559.10" cy="320.00" r="1.38"/><circle cx="563.30" cy="320.00" r="1.38"/><circle cx="565.70" cy="320.00" r="1.38"/><circle cx="556.70" cy="404.00" r="1.38"/><circle cx="559.10" cy="404.00" r="1.38"/><circle cx="563.30" cy="404.00" r="1.38"/><circle cx="565.70" cy="404.00" r="1.38"/><circle cx="556.70" cy="580.50" r="1.38"/><circle cx="559.10" cy="580.50" r="1.38"/><circle cx="563.30" cy="580.50" r="1.38"/><circle cx="565.70" cy="580.50" r="1.38"/><circle cx="556.70" cy="952.00" r="1.38"/><circle cx="559.10" cy="952.00" r="1.38"/><circle cx="563.30" cy="952.00" r="1.38"/><circle cx="565.70" cy="952.00" r="1.38"/></g>
<g fill="#1e1e1e" stroke="#1e1e1e" stroke-width="0.2"><text x="403.3" y="7.3" font-size="9.6">Superfamily</text><text x="403.3" y="16.3" font-size="8.5">(<tspan font-style="italic">sensu</tspan> Olson et al 2003)</text>
<text x="507.3" y="7.3" font-size="9.6">Suborder</text><text x="507.3" y="16.3" font-size="8.5">(<tspan font-style="italic">sensu</tspan> Olson et al 2003)</text></g>
<line x1="1.25" y1="989.5" x2="46.25" y2="989.5" stroke="#1a1a1a" stroke-width="2"/><text x="25" y="999.8" font-size="9" text-anchor="middle" fill="#222" letter-spacing="1">0.1</text>
</svg></body></html>
